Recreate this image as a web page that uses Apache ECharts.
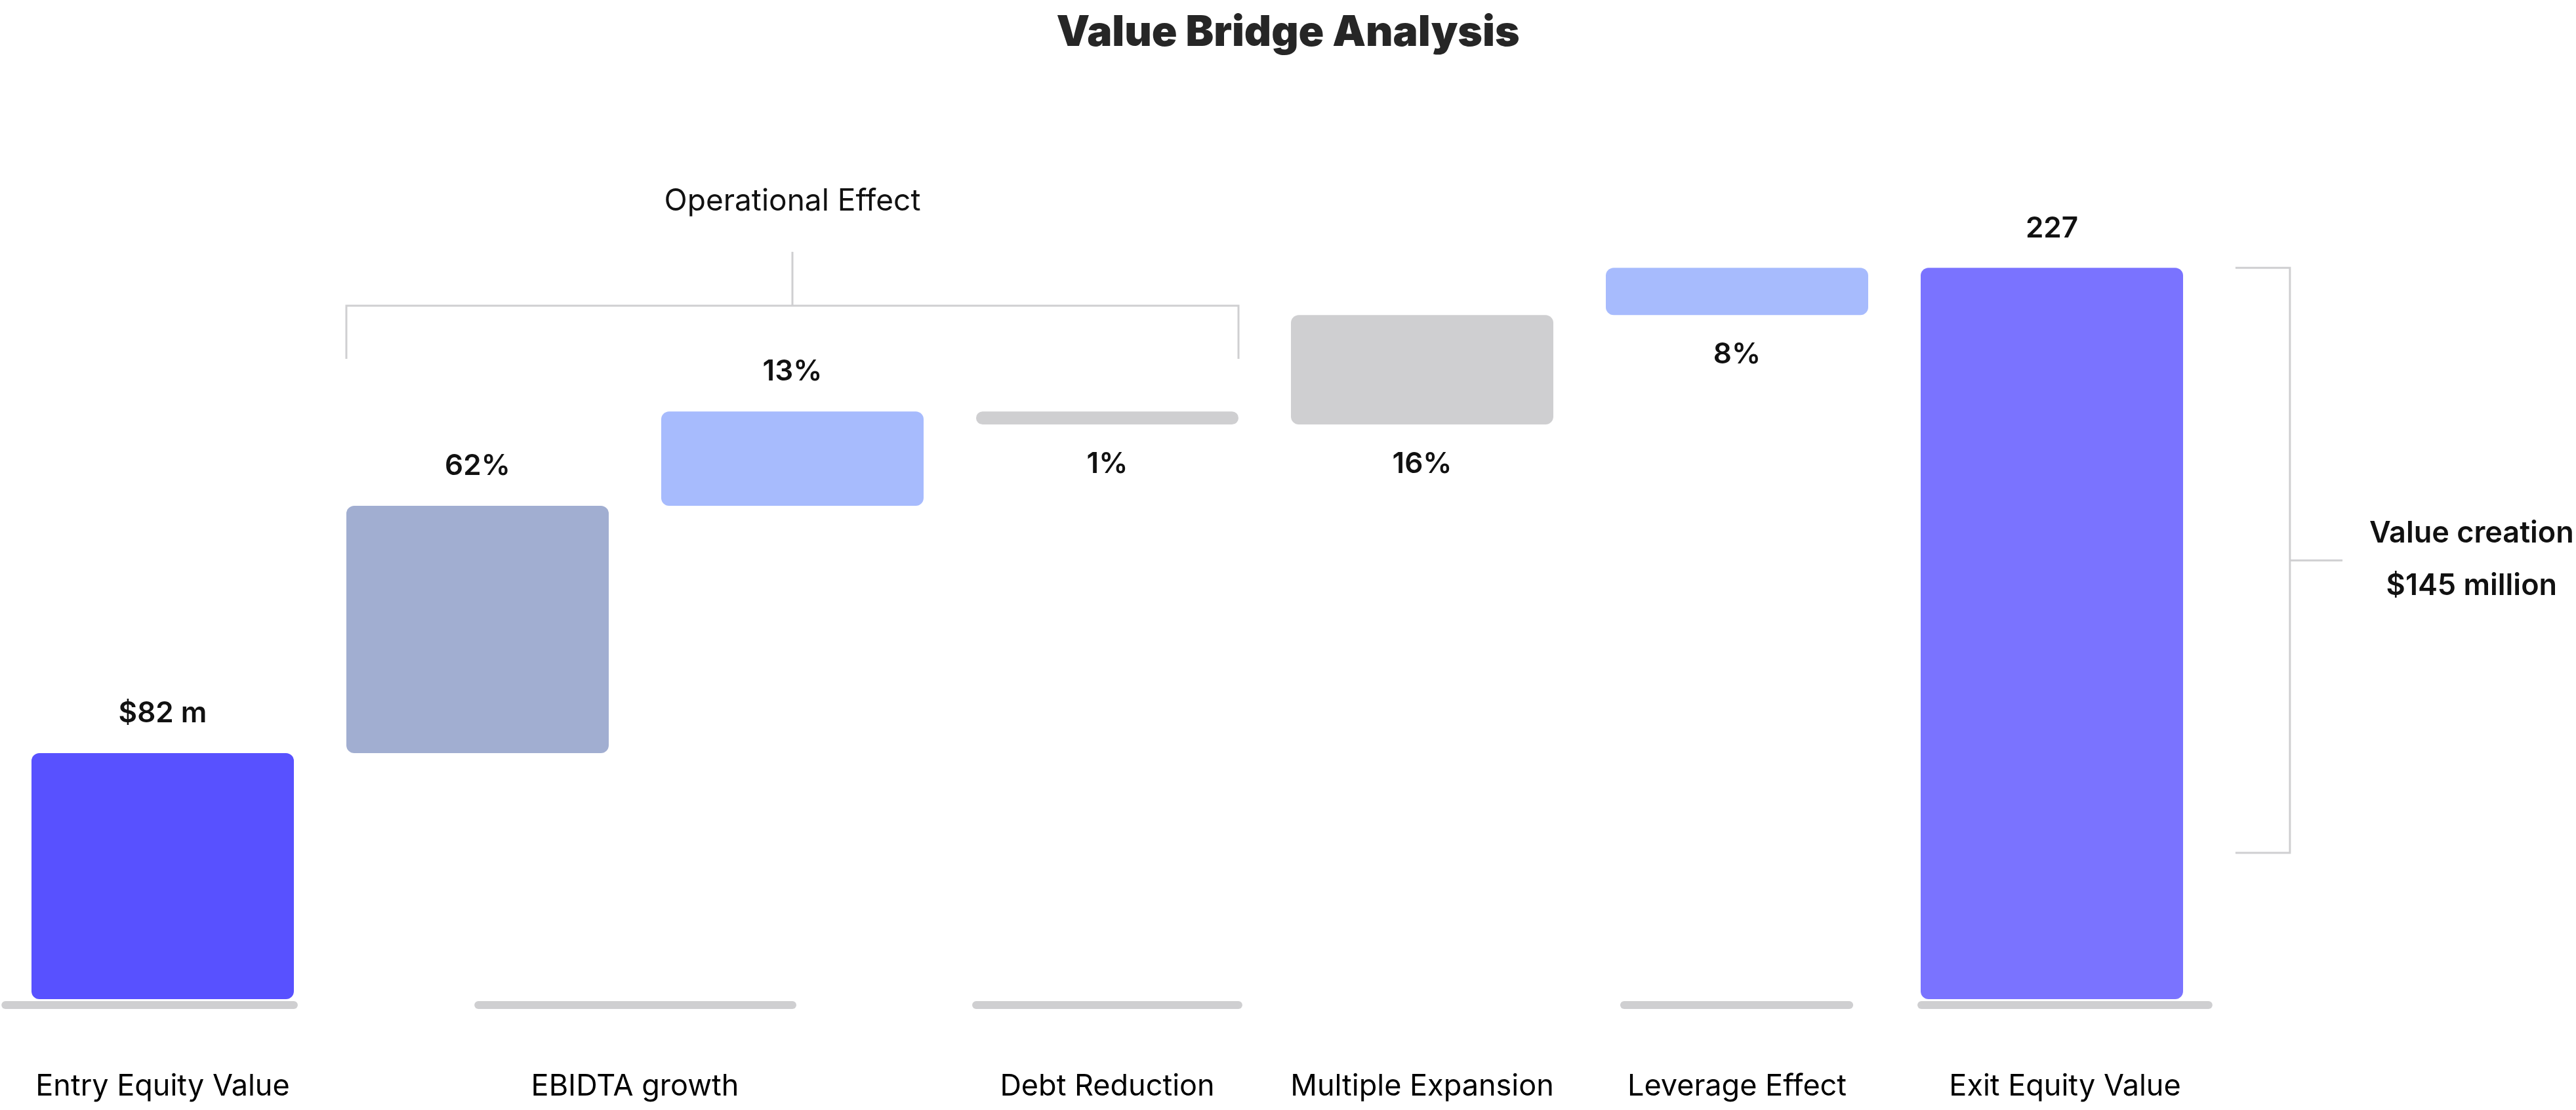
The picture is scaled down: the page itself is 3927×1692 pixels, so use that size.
<!DOCTYPE html>
<html><head><meta charset="utf-8">
<script src="https://cdn.jsdelivr.net/npm/echarts@6/dist/echarts.min.js"></script>
<style>html,body{margin:0;padding:0;background:#fff}#c{width:3927px;height:1692px}</style>
</head><body><div id="c"></div>
<script>
// ---------- DATA ----------
const categories = ['Entry Equity Value', 'EBIDTA growth', 'EBIDTA growth', 'Debt Reduction', 'Multiple Expansion', 'Leverage Effect', 'Exit Equity Value'];
const barFrom = [null, 82, 155.9, 184.1, 180.2, 212.9, null];   // null = starts at the axis
const barTo = [82, 155.9, 184.1, 180.2, 212.9, 227, 227];
const valueLabels = ['$82 m', '62%', '13%', '1%', '16%', '8%', '227'];
const entryValue = 82;
const exitValue = 227;
const valueCreationTitle = 'Value creation';
const valueCreationText = '$145 million';
const groupTitle = 'Operational Effect';
const groupMembers = ['EBIDTA growth', 'Debt Reduction'];
const chartTitle = 'Value Bridge Analysis';

// ---------- STYLE / LAYOUT ----------
const Y_MIN = 8.5, Y_MAX = 250;
const BAR_RATIO = 400 / 480;
const barColors = ['#5851FF', '#A1AED1', '#A7BBFD', '#CFCFD1', '#CFCFD1', '#A7BBFD', '#7A73FF'];
const labelBelow = [false, false, false, true, true, true, false];
const FONT = 'Inter';
const LINE = '#CFCFD1';
// decorative underline segments (category units)
const underlines = [[-0.512, 0.429], [0.99, 2.0125], [2.571, 3.429], [4.629, 5.369], [5.573, 6.51]];

// tick positions for category labels: mean index of each label group
const tickMap = {};
(function () {
  const seen = {};
  categories.forEach((c, i) => { (seen[c] = seen[c] || []).push(i); });
  Object.keys(seen).forEach(k => {
    const arr = seen[k];
    const m = arr.reduce((a, b) => a + b, 0) / arr.length;
    tickMap[m.toFixed(2)] = k;
  });
})();

const barData = categories.map((c, i) => [i, barFrom[i] == null ? Y_MIN : barFrom[i], barTo[i]]);

const chart = echarts.init(document.getElementById('c'), null, { renderer: 'canvas' });

function renderBar(params, api) {
  const i = api.value(0), lo = api.value(1), hi = api.value(2);
  const pLo = api.coord([i, lo]), pHi = api.coord([i, hi]);
  const bw = api.size([1, 0])[0] * BAR_RATIO;
  const top = Math.min(pLo[1], pHi[1]);
  const bottom = Math.max(pLo[1], pHi[1]);
  const h = bottom - top;
  const x = pLo[0] - bw / 2;
  const below = labelBelow[i];
  return {
    type: 'group',
    children: [
      { type: 'rect', shape: { x: x, y: top, width: bw, height: h, r: Math.min(12, h / 2) },
        style: { fill: barColors[i] } },
      { type: 'text', x: pLo[0], y: below ? bottom + 61 : top - 60,
        style: { text: valueLabels[i], fill: '#111', font: '600 44px ' + FONT,
          textAlign: 'center', textVerticalAlign: 'middle' } }
    ]
  };
}

function renderUnderline(params, api) {
  const a = api.coord([api.value(0), Y_MIN]);
  const b = api.coord([api.value(1), Y_MIN]);
  return { type: 'rect', shape: { x: a[0], y: a[1] + 3, width: b[0] - a[0], height: 12, r: 6 },
    style: { fill: '#CFCFD1' } };
}

function renderAnnotations(params, api) {
  const hw = BAR_RATIO / 2;
  const gIdx = groupMembers.map(g => categories.indexOf(g));
  const gFrom = Math.min(...gIdx) - hw, gTo = Math.max(...gIdx) + hw;
  const gMid = (Math.min(...gIdx) + Math.max(...gIdx)) / 2;
  const L = api.coord([gFrom, 215.7]), R = api.coord([gTo, 215.7]);
  const Ld = api.coord([gFrom, 199.8]), Rd = api.coord([gTo, 199.8]);
  const M = api.coord([gMid, 215.7]), Mu = api.coord([gMid, 231.8]);
  const T = api.coord([gMid, 247.3]);
  // right bracket
  const top = api.coord([6.583, exitValue]), topIn = api.coord([6.756, exitValue]);
  const bot = api.coord([6.583, 52.2]), botIn = api.coord([6.756, 52.2]);
  const midV = (exitValue + 52.2) / 2;
  const mid = api.coord([6.756, midV]), midOut = api.coord([6.923, midV]);
  const txt = api.coord([7.333, midV]);
  const ls = { stroke: LINE, lineWidth: 3, fill: null };
  return {
    type: 'group',
    children: [
      { type: 'polyline', shape: { points: [Ld, L, R, Rd] }, style: ls },
      { type: 'line', shape: { x1: M[0], y1: M[1], x2: Mu[0], y2: Mu[1] }, style: ls },
      { type: 'text', x: T[0], y: T[1] + 2, style: { text: groupTitle, fill: '#111', font: '46px ' + FONT, textAlign: 'center', textVerticalAlign: 'middle' } },
      { type: 'polyline', shape: { points: [top, topIn, botIn, bot] }, style: ls },
      { type: 'line', shape: { x1: mid[0], y1: mid[1], x2: midOut[0], y2: midOut[1] }, style: ls },
      { type: 'text', x: txt[0], y: txt[1] - 41, style: { text: valueCreationTitle, fill: '#111', font: '600 45px ' + FONT, textAlign: 'center', textVerticalAlign: 'middle' } },
      { type: 'text', x: txt[0], y: txt[1] + 39, style: { text: valueCreationText, fill: '#111', font: '600 45px ' + FONT, textAlign: 'center', textVerticalAlign: 'middle' } }
    ]
  };
}

chart.setOption({
  animation: false,
  backgroundColor: '#fff',
  title: {
    text: chartTitle, left: 'center', top: 13,
    textStyle: { fontFamily: FONT, fontWeight: 900, fontSize: 64, color: '#262626', lineHeight: 66 }
  },
  grid: { left: 8, right: 559, top: 291, bottom: 169, containLabel: false },
  xAxis: {
    type: 'value', min: -0.5, max: 6.5, interval: 0.5,
    axisLine: { show: false }, axisTick: { show: false }, splitLine: { show: false },
    axisLabel: {
      show: true, margin: 133, verticalAlign: 'middle', lineHeight: 46,
      fontFamily: FONT, fontSize: 45, color: '#000',
      formatter: function (v) {
        const k = tickMap[Number(v).toFixed(2)];
        if (!k) return '';
        return k === 'Exit Equity Value' ? '{s|' + k + '}' : k;
      },
      rich: { s: { padding: [0, 0, 0, 40], fontFamily: FONT, fontSize: 45, color: '#000', lineHeight: 46 } }
    }
  },
  yAxis: { type: 'value', min: Y_MIN, max: Y_MAX, show: false, splitLine: { show: false } },
  series: [
    { type: 'custom', name: 'underline', renderItem: renderUnderline, data: underlines, silent: true, z: 1 },
    { type: 'custom', name: 'bars', renderItem: renderBar, data: barData, z: 2,
      encode: { x: 0, y: [1, 2] } },
    { type: 'custom', name: 'annotations', renderItem: renderAnnotations, data: [[0, exitValue]], silent: true, z: 3 }
  ]
});
</script></body></html>
